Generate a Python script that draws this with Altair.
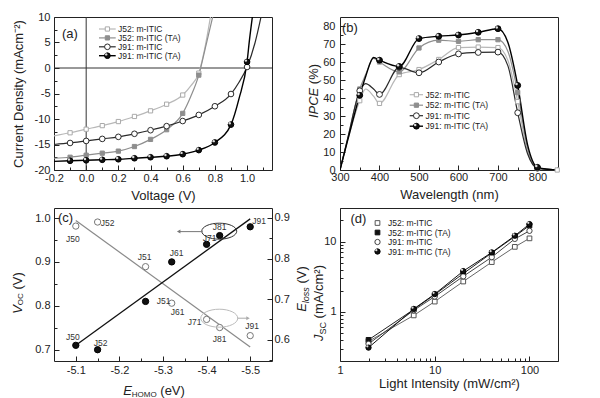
import altair as alt
import pandas as pd

FONT = "Liberation Sans"
series = ["J52: m-ITIC", "J52: m-ITIC (TA)", "J91: m-ITIC", "J91: m-ITIC (TA)"]

# ---------------- (a) J-V ----------------
a_v = [-0.1, 0.0, 0.1, 0.2, 0.3, 0.4, 0.5, 0.6, 0.7, 0.8, 0.9, 1.0]
a_j52 = [-12.7, -12.0, -11.3, -10.5, -9.5, -8.4, -7.1, -5.3, -1.0]
a_j52ta = [-17.5, -17.1, -16.7, -16.3, -15.4, -14.0, -12.1, -8.9, -1.4]
a_j91 = [-14.7, -14.3, -13.9, -13.5, -12.9, -12.2, -11.4, -10.4, -9.2, -7.5, -5.1, 0.2]
a_j91ta = [-18.2, -18.1, -18.0, -17.9, -17.7, -17.5, -17.3, -16.9, -16.1, -14.6, -11.1, 1.2]
a_curve_v = [[-0.2, 0.65, 0.735, 0.775], [-0.2, 0.65, 0.745, 0.79],
             [-0.2, 0.95, 1.05, 1.09], [-0.2, 0.95, 1.015, 1.035]]
a_curve_j = [[-13.3, -3.5, 3.5, 10.5], [-17.7, -5.6, 4.5, 10.5],
             [-15.0, -2.8, 5.0, 10.5], [-18.3, -6.0, 5.5, 10.5]]

# ---------------- (b) IPCE ----------------
b_wl = [350, 400, 450, 500, 550, 600, 650, 700, 750, 800, 850]
b_j52 = [38.5, 37.0, 53.0, 55.8, 61.4, 68.0, 68.3, 68.0, 38.0, 1.0, 0.0]
b_j52ta = [45.0, 60.0, 54.5, 67.8, 72.1, 71.5, 72.4, 72.4, 43.0, 1.0]
b_j91 = [44.0, 42.0, 57.0, 54.0, 60.0, 64.5, 65.3, 65.5, 31.8, 1.0]
b_j91ta = [41.5, 61.0, 57.5, 73.0, 74.3, 75.0, 76.5, 78.5, 47.0, 1.5]
b_curve_wl = [300, 320, 365, 385, 725, 775, 830, 850]
b_curve = [[0, 17, 45, 41, 61, 10, 0.3, 0],
           [0, 18, 53, 62, 66, 12, 0.3, 0],
           [0, 18, 48, 45, 58, 9, 0.3, 0],
           [0, 17, 52, 62.5, 71, 14, 0.3, 0]]

# ---------------- (c) Voc / Eloss vs EHOMO ----------------
c_names = ["J50", "J52", "J51", "J61", "J71", "J81", "J91"]
c_ehomo = [-5.10, -5.15, -5.26, -5.32, -5.40, -5.43, -5.50]
c_voc = [0.71, 0.70, 0.81, 0.90, 0.94, 0.96, 0.98]
c_eloss = [0.88, 0.89, 0.78, 0.69, 0.65, 0.63, 0.61]
c_fit_x = [-5.10, -5.50]
c_fit_voc = [0.71, 0.998]
c_fit_eloss = [0.894, 0.582]
c_voc_lab = [(-3, -8), (3, -7), (18, 0), (5, -9), (3, -6), (0, -9), (9, -6)]
c_eloss_lab = [(-3, 13), (10, 1), (-1, -10), (6, 9), (-12, 3), (0, 11), (2, -10)]
c_ell_voc = (-5.429, 0.970)
c_arrow_voc = (-5.391, -5.336, 0.969)
c_ell_eloss = (-5.429, 0.653)
c_arrow_eloss = (-5.471, -5.495, 0.653)

# ---------------- (d) Jsc vs light intensity ----------------
d_int = [2, 6, 10, 20, 40, 70, 100]
d_j52 = [0.38, 0.89, 1.40, 2.7, 5.1, 8.4, 11.1]
d_j52ta = [0.40, 1.08, 1.76, 3.5, 6.9, 11.8, 16.9]
d_j91 = [0.35, 1.05, 1.65, 3.2, 6.0, 10.9, 14.2]
d_j91ta = [0.31, 1.10, 1.79, 3.8, 7.0, 12.1, 17.7]

W, H = 218, 153
MINUS = "replace(datum.label, '\u2212', '-')"
TXT = "#222222"

STY_AB = [
    dict(line="#b8b8b8", shape="square", fill="white", stroke="#aaaaaa", ball=False, lw=1.2),
    dict(line="#8e8e8e", shape="square", fill="#8e8e8e", stroke="#8e8e8e", ball=False, lw=1.2),
    dict(line="#2a2a2a", shape="circle", fill="white", stroke="#2a2a2a", ball=False, lw=1.2),
    dict(line="#000000", shape="circle", fill="#111111", stroke="#000000", ball=True, lw=1.4),
]
STY_D = [
    dict(line="#666666", shape="square", fill="white", stroke="#555555", ball=False, lw=1.0),
    dict(line="#222222", shape="square", fill="#111111", stroke="#111111", ball=False, lw=1.0),
    dict(line="#444444", shape="circle", fill="white", stroke="#444444", ball=False, lw=1.0),
    dict(line="#111111", shape="circle", fill="#111111", stroke="#000000", ball=True, lw=1.0),
]

CW = {' ': 278, '(': 333, ')': 333, '%': 889, 'I': 278, 'P': 667, 'C': 722, 'E': 667,
      'V': 667, 'O': 778, 'H': 722, 'M': 833, 'S': 667, 'J': 500, 'l': 222, 'o': 556,
      's': 500, 'e': 556, 'm': 833, 'A': 667, '/': 278, 'c': 500, '\u00b2': 333}


def tw(s, size):
    return sum(CW.get(ch, 556) for ch in s) * size / 1000.0


def sc(domain, **kw):
    return alt.Scale(domain=domain, nice=False, **kw)


def long_df(xs_list, ys_list):
    rows = []
    for name, xs, ys in zip(series, xs_list, ys_list):
        for x, y in zip(xs, ys):
            rows.append({"s": name, "x": x, "y": y})
    return pd.DataFrame(rows)


def frame_axes(xs, ys, xmaj, xmin, ymaj, ymin, xfmt, yfmt, xtitle, ytitle, xlab, ylab, maj=5, mnr=3):
    d = alt.Data(values=[{"ax": xmaj[1], "ay": ymaj[1]}])
    common = dict(grid=False, domain=False, labelFlush=False, labelExpr=MINUS)
    out = [alt.Chart(d).mark_point(opacity=0).encode(
        x=alt.X("ax:Q", scale=xs, axis=alt.Axis(orient="bottom", values=xmaj, format=xfmt, ticks=False,
                                                 title=xtitle, **common, **xlab)),
        y=alt.Y("ay:Q", scale=ys, axis=alt.Axis(orient="left", values=ymaj, format=yfmt, ticks=False,
                                                 title=ytitle, **common, **ylab)))]
    for vx, vy, ts in [(xmaj, ymaj, maj), (xmin, ymin, mnr)]:
        out.append(alt.Chart(d).mark_point(opacity=0).encode(
            x=alt.X("ax:Q", scale=xs, axis=alt.Axis(orient="top", offset=-H, values=vx, labels=False,
                                                     tickSize=ts, grid=False, domain=False, title=None)),
            y=alt.Y("ay:Q", scale=ys, axis=alt.Axis(orient="right", offset=-W, values=vy, labels=False,
                                                     tickSize=ts, grid=False, domain=False, title=None))))
    return out


def marker_layers(df, name, st, size, xs, ys):
    base = alt.Chart(df).transform_filter(alt.datum.s == name)
    enc = dict(x=alt.X("x:Q", scale=xs, axis=None), y=alt.Y("y:Q", scale=ys, axis=None))
    out = [base.mark_point(shape=st["shape"], filled=True, fill=st["fill"], stroke=st["stroke"],
                           strokeWidth=1, size=size, opacity=1).encode(**enc)]
    if st["ball"]:
        out.append(base.mark_point(shape="circle", filled=True, fill="#e8e8e8", opacity=0.95,
                                   size=size * 0.18, xOffset=-1.2, yOffset=-1.3).encode(**enc))
    return out


def series_layers(lines_df, marks_df, xs, ys, styles, msq, mci, interp="monotone"):
    out = []
    for name, st in zip(series, styles):
        out.append(alt.Chart(lines_df).transform_filter(alt.datum.s == name).mark_line(
            color=st["line"], strokeWidth=st["lw"], interpolate=interp, clip=True).encode(
            x=alt.X("x:Q", scale=xs, axis=None), y=alt.Y("y:Q", scale=ys, axis=None)))
    for name, st in zip(series, styles):
        size = msq if st["shape"] == "square" else mci
        out += marker_layers(marks_df, name, st, size, xs, ys)
    return out


def legend(styles, x0, x1, xm, xt, y0, dy, msq, mci, lines=True, fs=8.5):
    out = []
    for i, (name, st) in enumerate(zip(series, styles)):
        y = y0 + i * dy
        d = alt.Data(values=[{"t": name}])
        if lines:
            out.append(alt.Chart(d).mark_rule(color=st["line"], strokeWidth=st["lw"]).encode(
                x=alt.value(x0), x2=alt.value(x1), y=alt.value(y)))
        size = msq if st["shape"] == "square" else mci
        out.append(alt.Chart(d).mark_point(shape=st["shape"], filled=True, fill=st["fill"], stroke=st["stroke"],
                                           strokeWidth=1, size=size, opacity=1).encode(x=alt.value(xm), y=alt.value(y)))
        if st["ball"]:
            out.append(alt.Chart(d).mark_point(shape="circle", filled=True, fill="#e8e8e8", opacity=0.95,
                                               size=size * 0.18, xOffset=-1.2, yOffset=-1.3).encode(
                x=alt.value(xm), y=alt.value(y)))
        out.append(alt.Chart(d).mark_text(align="left", baseline="middle", font=FONT, fontSize=fs, color=TXT).encode(
            x=alt.value(xt), y=alt.value(y), text="t:N"))
    return out


def rich(pieces, cx, cy, vertical):
    total = sum(tw(t, s) for t, s, _, _ in pieces)
    out = []
    along = 0.0
    for t, s, ital, sub in pieces:
        lead = len(t) - len(t.lstrip(" "))
        start = along + tw(" " * lead, s)
        kw = dict(align="left", baseline="middle", font=FONT, fontSize=s,
                  fontStyle="italic" if ital else "normal", color=TXT, dx=start, dy=3.5 if sub else 0)
        if vertical:
            kw["angle"] = 270
            x, y = cx, cy + total / 2
        else:
            x, y = cx - total / 2, cy
        out.append(alt.Chart(alt.Data(values=[{"t": t.strip()}])).mark_text(**kw).encode(
            x=alt.value(x), y=alt.value(y), text="t:N"))
        along += tw(t, s)
    return out


def panel_label(txt, x, y):
    return alt.Chart(alt.Data(values=[{"t": txt}])).mark_text(
        align="left", baseline="middle", font=FONT, fontSize=13, color=TXT).encode(
        x=alt.value(x), y=alt.value(y), text="t:N")


# ---------------- panel (a) ----------------
xs_a = sc([-0.2, 1.155], zero=False)
ys_a = sc([-20, 10], zero=False)
a_marks = long_df([a_v] * 4, [a_j52, a_j52ta, a_j91, a_j91ta])
a_lines = pd.concat([a_marks, long_df(a_curve_v, a_curve_j)]).drop_duplicates(["s", "x"]).sort_values(["s", "x"])
zero_d = alt.Data(values=[{"z": 0}])
pa_layers = frame_axes(
    xs_a, ys_a, [-0.2, 0.0, 0.2, 0.4, 0.6, 0.8, 1.0], [-0.1, 0.1, 0.3, 0.5, 0.7, 0.9, 1.1],
    [-20, -15, -10, -5, 0, 5, 10], [-17.5, -12.5, -7.5, -2.5, 2.5, 7.5], ".1f", "d",
    "Voltage (V)", "Current Density (mAcm\u207b\u00b2)",
    dict(labelPadding=2, minExtent=14, maxExtent=14, titlePadding=5),
    dict(labelPadding=4, minExtent=24, maxExtent=24, titlePadding=5))
pa_layers += [
    alt.Chart(zero_d).mark_rule(color="#333333", strokeWidth=1).encode(x=alt.X("z:Q", scale=xs_a, axis=None)),
    alt.Chart(zero_d).mark_rule(color="#333333", strokeWidth=1).encode(y=alt.Y("z:Q", scale=ys_a, axis=None)),
]
pa_layers += series_layers(a_lines, a_marks, xs_a, ys_a, STY_AB, 18, 32)
pa_layers += legend(STY_AB, 45, 61.7, 53.4, 64, 12, 8.9, 18, 32)
pa_layers.append(panel_label("(a)", 8, 16.5))
pa = alt.layer(*pa_layers).properties(width=W, height=H).resolve_scale(x="independent", y="independent")

# ---------------- panel (b) ----------------
xs_b = sc([300, 852], zero=False)
ys_b = sc([0, 85], zero=False)
b_marks = long_df([b_wl] * 4, [b_j52, b_j52ta, b_j91, b_j91ta])
b_lines = pd.concat([b_marks, long_df([b_curve_wl] * 4, b_curve)]).drop_duplicates(["s", "x"]).sort_values(["s", "x"])
pb_layers = frame_axes(
    xs_b, ys_b, [300, 400, 500, 600, 700, 800], [350, 450, 550, 650, 750, 850],
    [0, 10, 20, 30, 40, 50, 60, 70, 80], [5, 15, 25, 35, 45, 55, 65, 75], "d", "d",
    "Wavelength (nm)", None,
    dict(labelPadding=1, minExtent=13, maxExtent=13, titlePadding=5),
    dict(labelPadding=5))
pb_layers += series_layers(b_lines, b_marks, xs_b, ys_b, STY_AB, 18, 34)
pb_layers += legend(STY_AB, 69.7, 83, 76.4, 85.5, 77.7, 10.5, 18, 34)
pb_layers += rich([("IPCE", 13, True, False), (" (%)", 13, False, False)], -26, 74, True)
pb_layers.append(panel_label("(b)", 2, 11))
pb = alt.layer(*pb_layers).properties(width=W, height=H).resolve_scale(x="independent", y="independent")

# ---------------- panel (c) ----------------
xs_c = sc([-5.55, -5.05], zero=False, reverse=True)
ys_v = sc([0.6743, 1.0228], zero=False)
ys_e = sc([0.5475, 0.9246], zero=False)
c_df = pd.DataFrame({"name": c_names, "x": c_ehomo, "voc": c_voc, "eloss": c_eloss})
c_fit = pd.DataFrame({"x": c_fit_x, "voc": c_fit_voc, "eloss": c_fit_eloss})
pc_layers = frame_axes(
    xs_c, ys_v, [-5.1, -5.2, -5.3, -5.4, -5.5], [-5.15, -5.25, -5.35, -5.45],
    [0.7, 0.8, 0.9, 1.0], [0.75, 0.85, 0.95], ".1f", ".1f", None, None,
    dict(labelPadding=3), dict(labelPadding=4))
ed = alt.Data(values=[{"ax": -5.3, "ay": 0.7}])
pc_layers.append(alt.Chart(ed).mark_point(opacity=0).encode(
    x=alt.X("ax:Q", scale=xs_c, axis=None),
    y=alt.Y("ay:Q", scale=ys_e, axis=alt.Axis(orient="right", values=[0.6, 0.7, 0.8, 0.9], format=".1f",
                                               ticks=False, domain=False, grid=False, labelFlush=False,
                                               labelPadding=2, title=None))))
for vals, ts in [([0.6, 0.7, 0.8, 0.9], 5), ([0.55, 0.65, 0.75, 0.85], 3)]:
    pc_layers.append(alt.Chart(ed).mark_point(opacity=0).encode(
        x=alt.X("ax:Q", scale=xs_c, axis=None),
        y=alt.Y("ay:Q", scale=ys_e, axis=alt.Axis(orient="left", offset=-W, values=vals, labels=False,
                                                   tickSize=ts, grid=False, domain=False, title=None))))
pc_layers += [
    alt.Chart(c_fit).mark_line(color="#8a8a8a", strokeWidth=1.2).encode(
        x=alt.X("x:Q", scale=xs_c, axis=None), y=alt.Y("eloss:Q", scale=ys_e, axis=None)),
    alt.Chart(c_fit).mark_line(color="#111111", strokeWidth=1.3).encode(
        x=alt.X("x:Q", scale=xs_c, axis=None), y=alt.Y("voc:Q", scale=ys_v, axis=None)),
    alt.Chart(c_df).mark_point(shape="circle", filled=True, fill="white", stroke="#777777", strokeWidth=1,
                               size=40, opacity=1).encode(
        x=alt.X("x:Q", scale=xs_c, axis=None), y=alt.Y("eloss:Q", scale=ys_e, axis=None)),
    alt.Chart(c_df).mark_point(shape="circle", filled=True, fill="#111111", stroke="#000000", strokeWidth=1,
                               size=40, opacity=1).encode(
        x=alt.X("x:Q", scale=xs_c, axis=None), y=alt.Y("voc:Q", scale=ys_v, axis=None)),
]
for name, (vdx, vdy), (edx, edy) in zip(c_names, c_voc_lab, c_eloss_lab):
    base = alt.Chart(c_df).transform_filter(alt.datum.name == name)
    pc_layers.append(base.mark_text(font=FONT, fontSize=8.5, color="#333333", dx=vdx, dy=vdy).encode(
        x=alt.X("x:Q", scale=xs_c, axis=None), y=alt.Y("voc:Q", scale=ys_v, axis=None), text="name:N"))
    pc_layers.append(base.mark_text(font=FONT, fontSize=8.5, color="#333333", dx=edx, dy=edy).encode(
        x=alt.X("x:Q", scale=xs_c, axis=None), y=alt.Y("eloss:Q", scale=ys_e, axis=None), text="name:N"))


def ellipse_path(r):
    k = 0.5523
    return (f"M 1 0 C 1 {k*r:.3f} {k:.3f} {r:.3f} 0 {r:.3f} C {-k:.3f} {r:.3f} -1 {k*r:.3f} -1 0 "
            f"C -1 {-k*r:.3f} {-k:.3f} {-r:.3f} 0 {-r:.3f} C {k:.3f} {-r:.3f} 1 {-k*r:.3f} 1 0 Z")


def annotation(ell, arrow, ys, field_color, arrow_color, w, h, head):
    d_e = alt.Data(values=[{"x": ell[0], "y": ell[1]}])
    d_a = alt.Data(values=[{"x1": arrow[0], "x2": arrow[1], "y": arrow[2]}])
    return [
        alt.Chart(d_e).mark_point(shape=ellipse_path(h / w), filled=False, stroke=field_color, strokeWidth=1,
                                  size=w * w, opacity=1).encode(
            x=alt.X("x:Q", scale=xs_c, axis=None), y=alt.Y("y:Q", scale=ys, axis=None)),
        alt.Chart(d_a).mark_rule(color=arrow_color, strokeWidth=1).encode(
            x=alt.X("x1:Q", scale=xs_c, axis=None), x2="x2:Q", y=alt.Y("y:Q", scale=ys, axis=None)),
        alt.Chart(d_a).mark_point(shape=head, filled=True, fill=arrow_color, size=16, opacity=1).encode(
            x=alt.X("x2:Q", scale=xs_c, axis=None), y=alt.Y("y:Q", scale=ys, axis=None)),
    ]


pc_layers += annotation(c_ell_voc, c_arrow_voc, ys_v, "#333333", "#777777", 35, 16, "triangle-left")
pc_layers += annotation(c_ell_eloss, c_arrow_eloss, ys_e, "#bbbbbb", "#aaaaaa", 37, 18, "triangle-right")
pc_layers += rich([("V", 13, True, False), ("OC", 8, False, True), (" (V)", 13, False, False)], -36.5, 85, True)
pc_layers += rich([("E", 13, True, False), ("loss", 9, True, True), (" (V)", 13, False, False)], W + 30, 81, True)
pc_layers += rich([("E", 13, True, False), ("HOMO", 8, False, True), (" (eV)", 13, False, False)], 100, H + 30, False)
pc_layers.append(panel_label("(c)", 4, 10))
pc = alt.layer(*pc_layers).properties(width=W, height=H).resolve_scale(x="independent", y="independent")

# ---------------- panel (d) ----------------
xs_d = alt.Scale(type="log", domain=[1, 200], nice=False)
ys_d = alt.Scale(type="log", domain=[0.2, 30], nice=False)
d_marks = long_df([d_int] * 4, [d_j52, d_j52ta, d_j91, d_j91ta])
pd_layers = frame_axes(
    xs_d, ys_d, [1, 10, 100], [2, 3, 4, 5, 6, 7, 8, 9, 20, 30, 40, 50, 60, 70, 80, 90, 200],
    [1, 10], [0.3, 0.4, 0.5, 0.6, 0.7, 0.8, 0.9, 2, 3, 4, 5, 6, 7, 8, 9, 20, 30], "~g", "~g",
    "Light Intensity (mW/cm\u00b2)", None,
    dict(labelPadding=3, minExtent=14, maxExtent=14, titlePadding=2),
    dict(labelPadding=4))
pd_layers += series_layers(d_marks, d_marks, xs_d, ys_d, STY_D, 22, 28, interp="linear")
pd_layers += legend(STY_D, 0, 0, 37.5, 48, 15, 9.5, 22, 28, lines=False)
pd_layers += rich([("J", 13, True, False), ("SC", 9, False, True), (" (mA/cm\u00b2)", 13, False, False)], -21, 95, True)
pd_layers.append(panel_label("(d)", 10.5, 10.5))
pdn = alt.layer(*pd_layers).properties(width=W, height=H).resolve_scale(x="independent", y="independent")

chart = alt.concat(pa, pb, pc, pdn, columns=2, spacing={"row": 38, "column": 68}, bounds="flush").properties(
    padding={"left": 2, "top": 2, "right": 5, "bottom": 2}
).configure(font=FONT, background="white").configure_view(
    stroke="#222222", strokeWidth=1
).configure_axis(
    labelFont=FONT, labelFontSize=11, labelColor=TXT, titleFont=FONT, titleFontSize=13,
    titleFontWeight="normal", titleColor=TXT, tickColor="#222222", tickWidth=1
)

chart.save("out.html", embed_options={"renderer": "svg", "actions": False})
